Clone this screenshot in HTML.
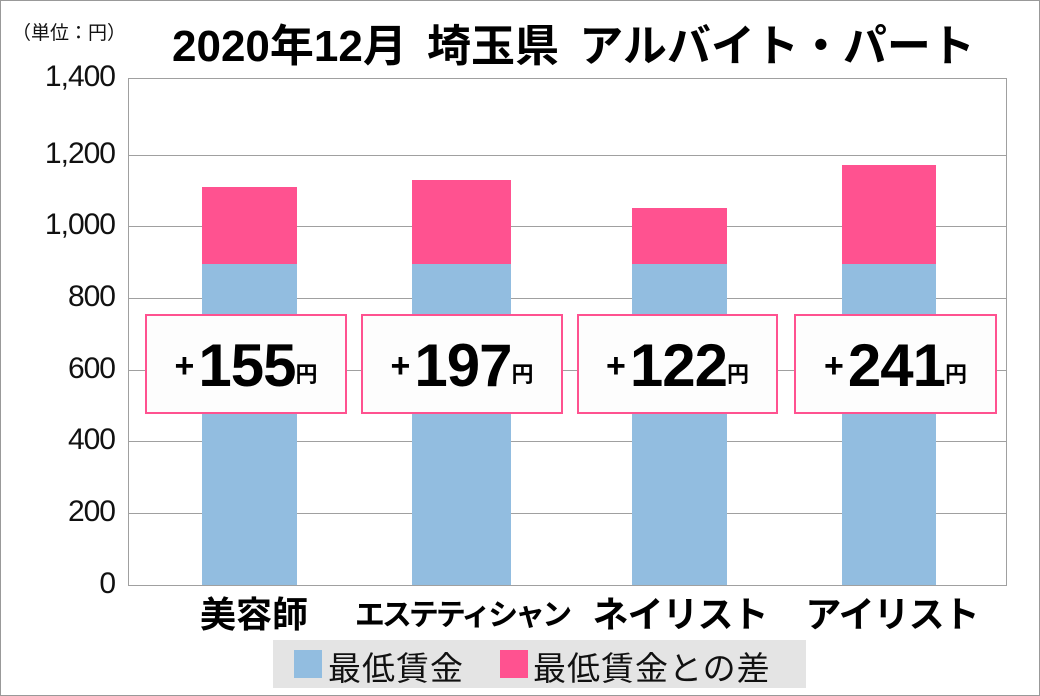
<!DOCTYPE html>
<html><head><meta charset="utf-8"><style>
body{margin:0;width:1040px;height:696px;background:#fff;position:relative;overflow:hidden;font-family:"Liberation Sans","Noto Sans CJK JP",sans-serif}
.a{position:absolute}
.t{position:absolute;right:925px;font-size:30px;color:#111;text-align:right;letter-spacing:-1px}
.g{position:absolute;left:128px;width:878px;height:1px;background:#a0a0a0}
.b{position:absolute;background:#92bde0}
.p{position:absolute;background:#ff5290}
.box{position:absolute;top:314px;height:100px;border:2px solid #ff5290;background:#fdfdfd;box-sizing:border-box;text-align:center;font-weight:bold;color:#000;line-height:100px}
.box .pl{font-size:34px;vertical-align:middle;margin-right:4px}
.box .n{font-size:60px;vertical-align:middle;letter-spacing:-1px}
.box .y{font-size:22px;vertical-align:-12px}
.c{position:absolute;top:586px;font-size:36px;font-weight:bold;text-align:center;width:260px;white-space:nowrap}
</style></head><body>
<div class="a" style="left:0;top:0;width:1038px;height:694px;border:1px solid #999"></div>
<div class="a" style="left:12px;top:18px;font-size:19px;color:#111">（単位：円）</div>
<div class="a" style="left:172px;top:10px;font-size:44px;font-weight:bold;color:#000;white-space:nowrap;word-spacing:8px">2020年12月 埼玉県 アルバイト・パート</div>
<div class="g" style="top:78px"></div><div class="g" style="top:155px"></div><div class="g" style="top:226px"></div><div class="g" style="top:298px"></div><div class="g" style="top:370px"></div><div class="g" style="top:441px"></div><div class="g" style="top:513px"></div><div class="g" style="top:585px"></div>
<div class="a" style="left:128px;top:78px;width:1px;height:508px;background:#a0a0a0"></div>
<div class="a" style="left:1006px;top:78px;width:1px;height:508px;background:#a0a0a0"></div>
<div class="t" style="top:60px">1,400</div><div class="t" style="top:137px">1,200</div><div class="t" style="top:208px">1,000</div><div class="t" style="top:280px">800</div><div class="t" style="top:352px">600</div><div class="t" style="top:423px">400</div><div class="t" style="top:495px">200</div><div class="t" style="top:567px">0</div>
<div class="p" style="left:202px;top:187px;width:95px;height:77px"></div><div class="b" style="left:202px;top:264px;width:95px;height:321px"></div>
<div class="p" style="left:412px;top:180px;width:99px;height:84px"></div><div class="b" style="left:412px;top:264px;width:99px;height:321px"></div>
<div class="p" style="left:632px;top:208px;width:95px;height:56px"></div><div class="b" style="left:632px;top:264px;width:95px;height:321px"></div>
<div class="p" style="left:842px;top:165px;width:94px;height:99px"></div><div class="b" style="left:842px;top:264px;width:94px;height:321px"></div>
<div class="box" style="left:145px;width:202px"><span class="pl">+</span><span class="n">155</span><span class="y">円</span></div>
<div class="box" style="left:361px;width:202px"><span class="pl">+</span><span class="n">197</span><span class="y">円</span></div>
<div class="box" style="left:577px;width:201px"><span class="pl">+</span><span class="n">122</span><span class="y">円</span></div>
<div class="box" style="left:794px;width:203px"><span class="pl">+</span><span class="n">241</span><span class="y">円</span></div>
<div class="c" style="left:124px">美容師</div>
<div class="c" style="left:332px;font-size:30px;letter-spacing:-3px;top:590px">エステティシャン</div>
<div class="c" style="left:550px;letter-spacing:-1px">ネイリスト</div>
<div class="c" style="left:762px;letter-spacing:-1px">アイリスト</div>
<div class="a" style="left:273px;top:640px;width:533px;height:48px;background:#e4e4e4"></div>
<div class="a" style="left:294px;top:650px;width:28px;height:28px;background:#92bde0"></div>
<div class="a" style="left:328px;top:642px;font-size:33px;color:#111;letter-spacing:1px">最低賃金</div>
<div class="a" style="left:500px;top:650px;width:28px;height:28px;background:#ff5290"></div>
<div class="a" style="left:533px;top:642px;font-size:33px;color:#111;letter-spacing:1px;white-space:nowrap">最低賃金との差</div>
</body></html>
